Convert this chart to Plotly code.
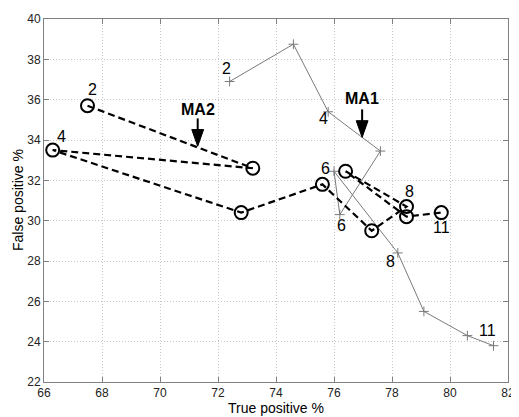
import plotly.graph_objects as go

# ---- data ----
ma1_x = [72.4, 74.6, 75.8, 77.6, 76.2, 76.0, 78.2, 79.1, 80.6, 81.5]
ma1_y = [36.9, 38.75, 35.4, 33.45, 30.3, 32.45, 28.4, 25.5, 24.3, 23.8]
ma2_x = [67.5, 73.2, 66.3, 72.8, 75.6, 77.3, 78.5, 76.4, 78.5, 79.7]
ma2_y = [35.7, 32.6, 33.5, 30.4, 31.8, 29.5, 30.7, 32.45, 30.2, 30.4]

point_labels = ["2", "4", "6", "8", "11"]
label_idx = [0, 2, 4, 6, 9]
# pixel offsets of labels (dx right, dy up)
ma1_label_off = [(-3, 13), (-5, -7), (2, -11), (-7, -9), (-6, 15)]
ma2_label_off = [(5, 16), (9, 14), (3, 16), (3, 15), (0, -15)]

arrow_names = ["MA1", "MA2"]
arrow_x = [76.97, 71.3]
arrow_tip_y = [34.13, 33.69]
arrow_tail_y = [35.52, 35.07]
arrow_text_y = [36.07, 35.52]

x_ticks = [66, 68, 70, 72, 74, 76, 78, 80, 82]
y_ticks = [22, 24, 26, 28, 30, 32, 34, 36, 38, 40]

FONT = "Liberation Sans, Arial, sans-serif"

fig = go.Figure()
fig.add_trace(go.Scatter(
    x=ma1_x, y=ma1_y, mode="lines+markers",
    line=dict(color="#7a7a7a", width=1),
    marker=dict(symbol="cross-thin-open", size=7, line=dict(color="#555555", width=1)),
    showlegend=False, hoverinfo="skip"))
fig.add_trace(go.Scatter(
    x=ma2_x, y=ma2_y, mode="lines+markers",
    line=dict(color="black", width=2.2, dash="7px,4px"),
    marker=dict(symbol="circle-open", size=13, line=dict(color="black", width=2)),
    showlegend=False, hoverinfo="skip"))

annotations = []
for lab, i, (dx, dy) in zip(point_labels, label_idx, ma1_label_off):
    annotations.append(dict(x=ma1_x[i], y=ma1_y[i], text=lab, showarrow=False,
                            xshift=dx, yshift=dy,
                            font=dict(family=FONT, size=16, color="black")))
for lab, i, (dx, dy) in zip(point_labels, label_idx, ma2_label_off):
    annotations.append(dict(x=ma2_x[i], y=ma2_y[i], text=lab, showarrow=False,
                            xshift=dx, yshift=dy,
                            font=dict(family=FONT, size=16, color="black")))

# axis titles
annotations.append(dict(xref="paper", yref="paper", x=0.5, y=0, yshift=-26,
                        xanchor="center", yanchor="middle", showarrow=False,
                        text="True positive %", font=dict(family=FONT, size=14, color="black")))
annotations.append(dict(xref="paper", yref="paper", x=0, y=0.5, xshift=-26.5,
                        xanchor="center", yanchor="middle", showarrow=False, textangle=-90,
                        text="False positive %", font=dict(family=FONT, size=14, color="black")))

# arrows: head size in pixels converted to data units
px_per_x = 470.5 / 16.0
px_per_y = 370.0 / 18.0
head_w = 6.0 / px_per_x
head_l = 17.0 / px_per_y
shapes = []
for name, ax_, ty, tl, txy in zip(arrow_names, arrow_x, arrow_tip_y, arrow_tail_y, arrow_text_y):
    annotations.append(dict(x=ax_, y=txy, text="<b>%s</b>" % name, showarrow=False,
                            font=dict(family=FONT, size=16, color="black")))
    shapes.append(dict(type="line", xref="x", yref="y", x0=ax_, x1=ax_, y0=tl, y1=ty + head_l * 0.9,
                       line=dict(color="black", width=2)))
    shapes.append(dict(type="path", xref="x", yref="y",
                       path="M %f,%f L %f,%f L %f,%f Z" % (ax_ - head_w, ty + head_l,
                                                         ax_ + head_w, ty + head_l, ax_, ty),
                       fillcolor="black", line=dict(color="black", width=1)))

axis_common = dict(
    showline=True, linecolor="#808080", linewidth=1, mirror="ticks",
    ticks="inside", ticklen=5, tickcolor="#808080",
    showgrid=True, gridcolor="#c8c8c8", gridwidth=1, griddash="1px,2px",
    zeroline=False, tickfont=dict(family=FONT, size=12, color="#222222"),
    ticklabeloverflow="allow",
)

# The page body has an 8px default margin, so the figure is sized 8px smaller.
fig.update_layout(
    width=511, height=409,
    margin=dict(l=35.5, r=5, t=4, b=35),
    paper_bgcolor="white", plot_bgcolor="white",
    font=dict(family=FONT),
    xaxis=dict(range=[66, 82], tickvals=x_ticks, ticktext=[str(v) for v in x_ticks], **axis_common),
    yaxis=dict(range=[22, 40], tickvals=y_ticks, ticktext=[str(v) for v in y_ticks], **axis_common),
    annotations=annotations,
    shapes=shapes,
)

fig.write_html("out.html")
